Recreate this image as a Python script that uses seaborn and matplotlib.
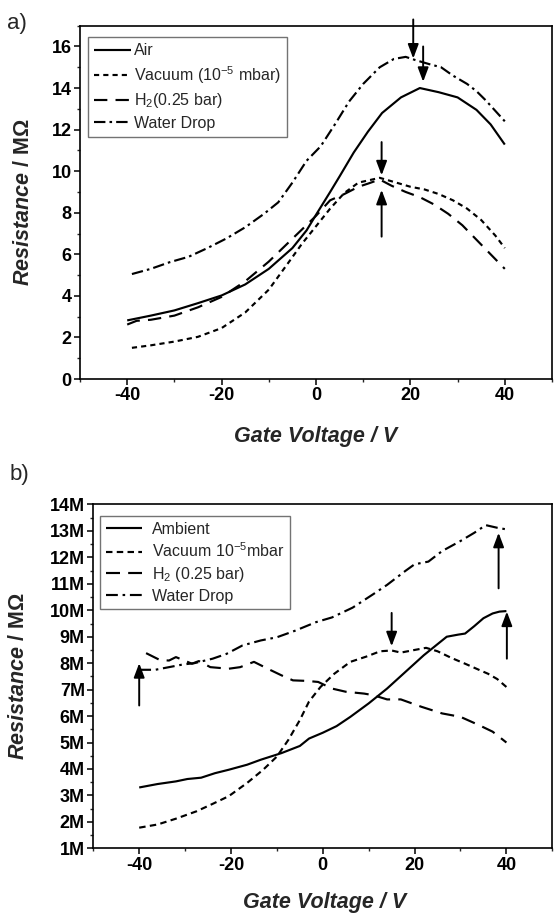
import matplotlib
matplotlib.use("Agg")
import matplotlib.pyplot as plt
import seaborn as sns
from matplotlib.ticker import MultipleLocator, FuncFormatter

# ---------------- data: panel a ----------------
a_air_v = [-40, -35, -30, -25, -20, -15, -10, -5, -2, 0, 3, 5, 8, 11, 14, 18, 22, 26, 30, 34, 37, 40]
a_air_r = [2.82, 3.05, 3.3, 3.65, 4.02, 4.55, 5.3, 6.3, 7.15, 7.9, 9.0, 9.75, 10.9, 11.9, 12.8, 13.55, 14.0, 13.8, 13.55, 12.95, 12.25, 11.28]

a_vac_v = [-39, -35, -30, -25, -20, -15, -10, -6, -3, 0, 3, 6, 9, 13.5, 17, 20, 23, 26, 29, 32, 35, 38, 40]
a_vac_r = [1.5, 1.62, 1.8, 2.03, 2.45, 3.2, 4.3, 5.55, 6.5, 7.35, 8.2, 8.95, 9.45, 9.68, 9.45, 9.25, 9.12, 8.9, 8.6, 8.2, 7.65, 6.9, 6.3]

a_h2_v = [-40, -38, -35, -30, -25, -20, -15, -10, -5, 0, 3, 6, 9, 11, 13.5, 16, 19, 22, 25, 28, 31, 34, 37, 40]
a_h2_r = [2.62, 2.8, 2.85, 3.05, 3.45, 3.95, 4.7, 5.65, 6.75, 7.85, 8.6, 8.9, 9.25, 9.4, 9.6, 9.3, 9.0, 8.75, 8.4, 7.95, 7.4, 6.7, 6.0, 5.3]

a_wat_v = [-39, -35, -31, -27, -23, -19, -15, -11, -8, -5, -2, 1, 4, 7, 10, 13.5, 16.5, 19, 21, 24, 26.5, 29, 32, 34, 36, 38, 40]
a_wat_r = [5.05, 5.3, 5.62, 5.88, 6.3, 6.76, 7.3, 7.95, 8.5, 9.45, 10.5, 11.2, 12.25, 13.35, 14.2, 15.0, 15.4, 15.5, 15.35, 15.15, 15.0, 14.6, 14.2, 13.85, 13.4, 12.9, 12.4]

a_labels = ["Air", "Vacuum (10$^{-5}$ mbar)", "H$_2$(0.25 bar)", "Water Drop"]

a_arrow_x = [20.6, 22.7, 13.9, 13.9]
a_arrow_from = [17.3, 16.0, 11.4, 6.85]
a_arrow_to = [15.42, 14.3, 9.8, 9.1]

# ---------------- data: panel b ----------------
b_amb_v = [-40, -36, -32, -29.5, -26.5, -23.5, -20.5, -16.5, -13.5, -9, -5, -3, 0, 3, 6, 10, 14, 18, 22, 24.5, 27, 29.5, 31, 33, 35, 37, 38.5, 40]
b_amb_r = [3.3, 3.43, 3.53, 3.62, 3.67, 3.84, 3.97, 4.16, 4.35, 4.6, 4.87, 5.15, 5.37, 5.62, 5.97, 6.48, 7.04, 7.67, 8.3, 8.65, 9.0, 9.08, 9.12, 9.4, 9.7, 9.88, 9.95, 9.97]

b_vac_v = [-40, -36, -32, -27.5, -24, -20.5, -16.5, -13, -10, -7.5, -5, -3, -0.5, 2.5, 6, 9.5, 12.5, 15, 17, 20, 22.5, 25, 28, 31, 34, 36, 38, 40]
b_vac_r = [1.78, 1.9, 2.12, 2.4, 2.68, 2.97, 3.47, 3.97, 4.47, 5.1, 5.85, 6.55, 7.1, 7.6, 8.05, 8.25, 8.45, 8.48, 8.4, 8.5, 8.58, 8.45, 8.2, 7.98, 7.75, 7.6, 7.4, 7.1]

b_h2_v = [-38.5, -35.5, -33.5, -32, -28.5, -27, -24.5, -20.5, -18, -15, -12, -9, -6.5, -3.5, -1, 2, 5, 9, 11, 14, 17, 21.5, 26, 30, 34, 37, 40]
b_h2_r = [8.38, 8.12, 8.1, 8.23, 7.98, 8.08, 7.85, 7.79, 7.85, 8.05, 7.79, 7.54, 7.35, 7.33, 7.29, 7.04, 6.92, 6.85, 6.79, 6.63, 6.63, 6.35, 6.1, 5.97, 5.66, 5.41, 5.0]

b_wat_v = [-40, -36.5, -33.5, -30.5, -28, -24, -21, -17.5, -13.5, -10, -6, -1.5, 2, 6.5, 11, 14, 18, 20, 23, 26, 30, 33, 35.5, 38, 40]
b_wat_r = [7.75, 7.75, 7.85, 7.95, 8.0, 8.17, 8.35, 8.67, 8.86, 8.98, 9.23, 9.55, 9.73, 10.1, 10.61, 10.96, 11.49, 11.74, 11.84, 12.24, 12.62, 12.93, 13.22, 13.12, 13.06]

b_labels = ["Ambient", "Vacuum 10$^{-5}$mbar", "H$_2$ (0.25 bar)", "Water Drop"]

b_arrow_x = [-40, 15.0, 38.3, 40.1]
b_arrow_from = [6.4, 9.9, 10.83, 8.17]
b_arrow_to = [8.0, 8.64, 12.93, 9.95]

# ---------------- style ----------------
sns.set_theme(style="ticks")
plt.rcParams['font.family'] = ['Liberation Sans', 'DejaVu Sans']
plt.rcParams.update({
    'mathtext.fontset': 'custom',
    'mathtext.rm': 'Liberation Sans',
    'mathtext.it': 'Liberation Sans:italic:bold',
    'mathtext.bf': 'Liberation Sans:bold',
    'axes.edgecolor': 'black',
    'axes.linewidth': 1.2,
    'axes.unicode_minus': False,
})

LW = 1.55
STYLES_A = [(0, ()), (0, (2.4, 1.9)), (0, (6.2, 3.8)), (0, (5.3, 1.9, 1.2, 1.9))]
STYLES_B = [(0, ()), (0, (3.0, 2.0)), (0, (6.5, 3.8)), (0, (5.5, 2.2, 1.2, 2.2))]

fig = plt.figure(figsize=(5.54, 9.13), dpi=100)
ax1 = fig.add_axes([80 / 554, 1 - 379 / 913, 472 / 554, 353.3 / 913])
ax2 = fig.add_axes([93.3 / 554, 1 - 848.3 / 913, 459 / 554, 343.8 / 913])


def draw(ax, series, labels, styles):
    for (v, r), lab, ls in zip(series, labels, styles):
        sns.lineplot(x=v, y=r, ax=ax, color='black', linewidth=LW, sort=False,
                     estimator=None, errorbar=None, label=lab, linestyle=ls)


draw(ax1, [(a_air_v, a_air_r), (a_vac_v, a_vac_r), (a_h2_v, a_h2_r), (a_wat_v, a_wat_r)], a_labels, STYLES_A)
draw(ax2, [(b_amb_v, b_amb_r), (b_vac_v, b_vac_r), (b_h2_v, b_h2_r), (b_wat_v, b_wat_r)], b_labels, STYLES_B)

arrowprops = dict(arrowstyle='-|>,head_length=0.85,head_width=0.32', color='black',
                  lw=1.4, mutation_scale=10, shrinkA=0, shrinkB=0)
for x, y0, y1 in zip(a_arrow_x, a_arrow_from, a_arrow_to):
    ax1.annotate("", xy=(x, y1), xytext=(x, y0), arrowprops=arrowprops, annotation_clip=False)
for x, y0, y1 in zip(b_arrow_x, b_arrow_from, b_arrow_to):
    ax2.annotate("", xy=(x, y1), xytext=(x, y0), arrowprops=arrowprops, annotation_clip=False)

# axes limits and ticks
ax1.set_xlim(-50, 50)
ax1.set_ylim(0, 17)
ax1.xaxis.set_major_locator(MultipleLocator(20))
ax1.xaxis.set_minor_locator(MultipleLocator(10))
ax1.yaxis.set_major_locator(MultipleLocator(2))
ax1.yaxis.set_minor_locator(MultipleLocator(1))

ax2.set_xlim(-50, 50)
ax2.set_ylim(1, 14)
ax2.xaxis.set_major_locator(MultipleLocator(20))
ax2.xaxis.set_minor_locator(MultipleLocator(10))
ax2.yaxis.set_major_locator(MultipleLocator(1))
ax2.yaxis.set_minor_locator(MultipleLocator(0.5))
ax2.yaxis.set_major_formatter(FuncFormatter(lambda v, p: f"{int(round(v))}M"))

for ax in (ax1, ax2):
    for s in ax.spines.values():
        s.set_visible(True)
        s.set_color('black')
        s.set_linewidth(1.2)
    ax.tick_params(which='major', direction='out', length=4, width=1.1, labelsize=13, pad=2,
                   top=False, right=False, colors='black')
    ax.tick_params(which='minor', direction='out', length=2.5, width=1.0, top=False, right=False)
    for lab in ax.get_xticklabels() + ax.get_yticklabels():
        lab.set_fontweight('bold')
    ax.set_xlabel("Gate Voltage / V", fontsize=15.5, fontweight='bold', fontstyle='italic')
    ax.xaxis.label.set_va('center')
    ax.set_ylabel(r"$\it{Resistance}$ / MΩ", fontsize=15.5, fontweight='bold')
    ax.yaxis.label.set_va('center')

ax1.xaxis.set_label_coords(0.5, -0.164)
ax1.yaxis.set_label_coords(-0.119, 0.5)
ax2.xaxis.set_label_coords(0.505, -0.159)
ax2.yaxis.set_label_coords(-0.162, 0.5)

leg1 = ax1.legend(loc='upper left', bbox_to_anchor=(0.017, 0.968), borderaxespad=0, frameon=True,
                  fancybox=False, edgecolor='0.45', framealpha=1, fontsize=11.5, handlelength=2.3,
                  handletextpad=0.15, labelspacing=0.35, borderpad=0.4)
leg1.get_frame().set_linewidth(1.0)
leg2 = ax2.legend(loc='upper left', bbox_to_anchor=(0.0146, 0.9665), borderaxespad=0, frameon=True,
                  fancybox=False, edgecolor='0.45', framealpha=1, fontsize=11.5, handlelength=2.3,
                  handletextpad=0.6, labelspacing=0.3, borderpad=0.35)
leg2.get_frame().set_linewidth(1.0)

fig.text(7 / 554, 1 - 24 / 913, "a)", fontsize=16, va='center', ha='left')
fig.text(10 / 554, 1 - 474 / 913, "b)", fontsize=16, va='center', ha='left')

fig.savefig("out.png", dpi=100)
